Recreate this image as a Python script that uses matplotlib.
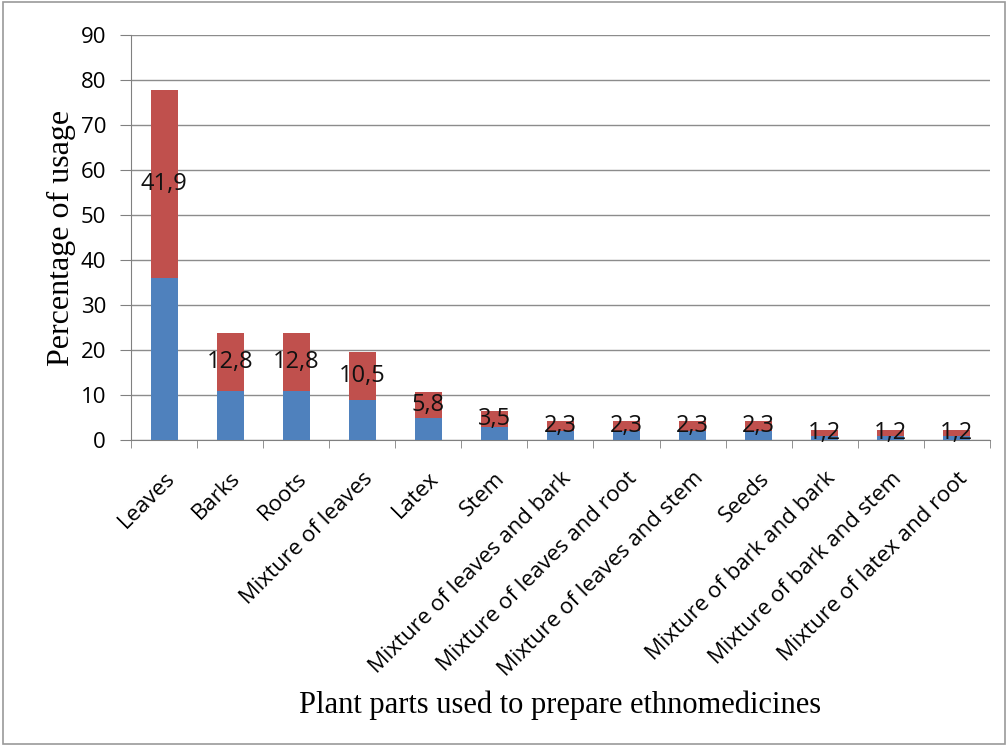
import numpy as np
import matplotlib.pyplot as plt
from matplotlib.patches import Rectangle

categories = ["Leaves", "Barks", "Roots", "Mixture of leaves", "Latex", "Stem",
              "Mixture of leaves and bark", "Mixture of leaves and root",
              "Mixture of leaves and stem", "Seeds", "Mixture of bark and bark",
              "Mixture of bark and stem", "Mixture of latex and root"]
lower = [36, 11, 11, 9, 5, 3, 2, 2, 2, 2, 1, 1, 1]
upper = [41.9, 12.8, 12.8, 10.5, 5.8, 3.5, 2.3, 2.3, 2.3, 2.3, 1.2, 1.2, 1.2]
upper_labels = ["41,9", "12,8", "12,8", "10,5", "5,8", "3,5", "2,3", "2,3",
                "2,3", "2,3", "1,2", "1,2", "1,2"]

fig = plt.figure(figsize=(10.08, 7.46), dpi=100)
ax = fig.add_axes([0.130, 0.410, 0.852, 0.543])

x = np.arange(len(categories))
ax.bar(x, lower, width=0.41, color="#4F81BD", zorder=3)
ax.bar(x, upper, width=0.41, bottom=lower, color="#C0504D", zorder=3)

for xi, lo, up, lab in zip(x, lower, upper, upper_labels):
    ax.text(xi, lo + up / 2, lab, ha="center", va="center", fontsize=17,
            family="Open Sans", color="#111111", zorder=4)

ax.set_xlim(-0.5, len(categories) - 0.5)
ax.set_ylim(0, 90)
ax.set_yticks(np.arange(0, 91, 10))
ax.yaxis.grid(True, color="#8c8c8c", linewidth=1.0, zorder=0)

ax.set_xticks(x)
ax.set_xticklabels(categories, rotation=45, ha="right", rotation_mode="anchor",
                   fontsize=16, family="Open Sans")
ax.tick_params(axis="x", length=0, pad=20)
ax.set_xticks(np.arange(-0.5, len(categories)), minor=True)
ax.tick_params(axis="x", which="minor", length=6, color="#808080")
ax.tick_params(axis="y", length=8, color="#808080", labelsize=16, pad=10)
for t in ax.get_yticklabels():
    t.set_family("Open Sans")

for side in ["top", "right"]:
    ax.spines[side].set_visible(False)
ax.spines["left"].set_color("#808080")
ax.spines["bottom"].set_color("#808080")

ax.set_ylabel("Percentage of usage", family="Liberation Serif", fontsize=23,
              labelpad=3)
fig.text(0.556, 0.054, "Plant parts used to prepare ethnomedicines",
         ha="center", va="center", family="Liberation Serif", fontsize=22)

fig.add_artist(Rectangle((0.003, 0.003), 0.994, 0.994, transform=fig.transFigure,
                         fill=False, edgecolor="#9a9a9a", linewidth=1.2))

fig.savefig("out.png", dpi=100)
